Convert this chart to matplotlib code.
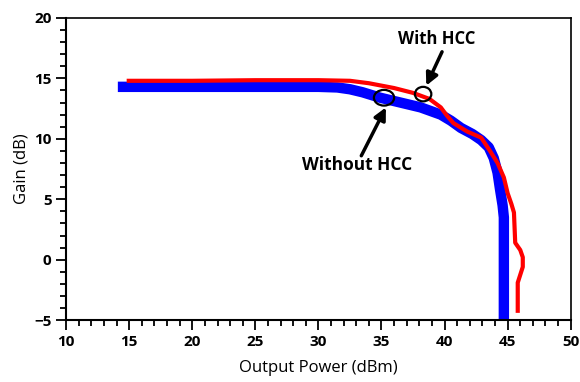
import matplotlib
matplotlib.use('Agg')
import matplotlib.pyplot as plt
from matplotlib.patches import Ellipse
from matplotlib.ticker import MultipleLocator

# without HCC (blue)
pout_wo = [14.1, 20, 25, 30, 31.5, 32.5, 33.5, 34.9, 36.5, 38.1, 39.7, 40.5, 41.3, 42.2, 42.9, 43.5, 43.9,
           44.2, 44.4, 44.6, 44.7, 44.7, 44.7, 44.7]
gain_wo = [14.3, 14.3, 14.3, 14.3, 14.25, 14.1, 13.85, 13.4, 13.0, 12.6, 12.0, 11.5, 10.9, 10.4, 9.9, 9.3, 8.4,
           7.2, 5.8, 4.5, 3.5, 0.8, -1.9, -5.0]

# with HCC (red)
pout_w = [14.8, 20, 25, 30, 32.5, 34, 36, 37.5, 38.8, 39.7, 40.2, 40.7, 41.8, 42.9, 43.6, 44.2, 44.7, 45.0,
          45.3, 45.5, 45.6, 46.0, 46.2, 46.2, 45.8, 45.8]
gain_w = [14.8, 14.8, 14.85, 14.85, 14.8, 14.6, 14.2, 13.8, 13.3, 12.6, 11.9, 11.3, 10.6, 10.1, 9.0, 8.0, 6.8,
          5.5, 4.6, 3.9, 1.4, 0.8, 0.2, -0.6, -1.9, -4.4]

plt.rcParams['font.family'] = ['Open Sans', 'DejaVu Sans']

fig = plt.figure(figsize=(5.8, 3.82), dpi=100)
ax = fig.add_axes([0.114, 0.162, 0.870, 0.791])

ax.plot(pout_wo, gain_wo, color='#0000ff', lw=7.5, solid_capstyle='butt', solid_joinstyle='round')
ax.plot(pout_w, gain_w, color='#ff0000', lw=3, solid_capstyle='butt', solid_joinstyle='round')

ax.add_patch(Ellipse((35.2, 13.4), 1.6, 1.3, fill=False, ec='black', lw=1.6, zorder=5))
ax.add_patch(Ellipse((38.3, 13.7), 1.3, 1.2, fill=False, ec='black', lw=1.6, zorder=5))

ax.text(39.4, 18.3, 'With HCC', ha='center', va='center', fontsize=12, fontweight='bold')
ax.text(33.1, 7.8, 'Without HCC', ha='center', va='center', fontsize=12.5, fontweight='bold')

arrow = dict(arrowstyle='-|>', color='black', lw=2.5, mutation_scale=18, shrinkA=0, shrinkB=0)
ax.annotate('', xy=(38.55, 14.4), xytext=(39.8, 17.2), arrowprops=arrow)
ax.annotate('', xy=(35.35, 12.6), xytext=(33.4, 8.6), arrowprops=arrow)

ax.set_xlim(10, 50)
ax.set_ylim(-5, 20)
ax.xaxis.set_major_locator(MultipleLocator(5))
ax.xaxis.set_minor_locator(MultipleLocator(1))
ax.yaxis.set_major_locator(MultipleLocator(5))
ax.yaxis.set_minor_locator(MultipleLocator(1))
ax.tick_params(which='major', direction='out', length=7, width=1.3, labelsize=11)
ax.tick_params(which='minor', direction='out', length=4.5, width=1.3)
for lab in ax.get_xticklabels() + ax.get_yticklabels():
    lab.set_fontweight('bold')

ax.spines['left'].set_linewidth(1.5)
ax.spines['bottom'].set_linewidth(1.5)
ax.spines['top'].set_linewidth(1.2)
ax.spines['right'].set_linewidth(1.2)

ax.set_xlabel('Output Power (dBm)', fontsize=12, labelpad=8)
ax.set_ylabel('Gain (dB)', fontsize=12, labelpad=3)

fig.savefig('out.png', dpi=100)
